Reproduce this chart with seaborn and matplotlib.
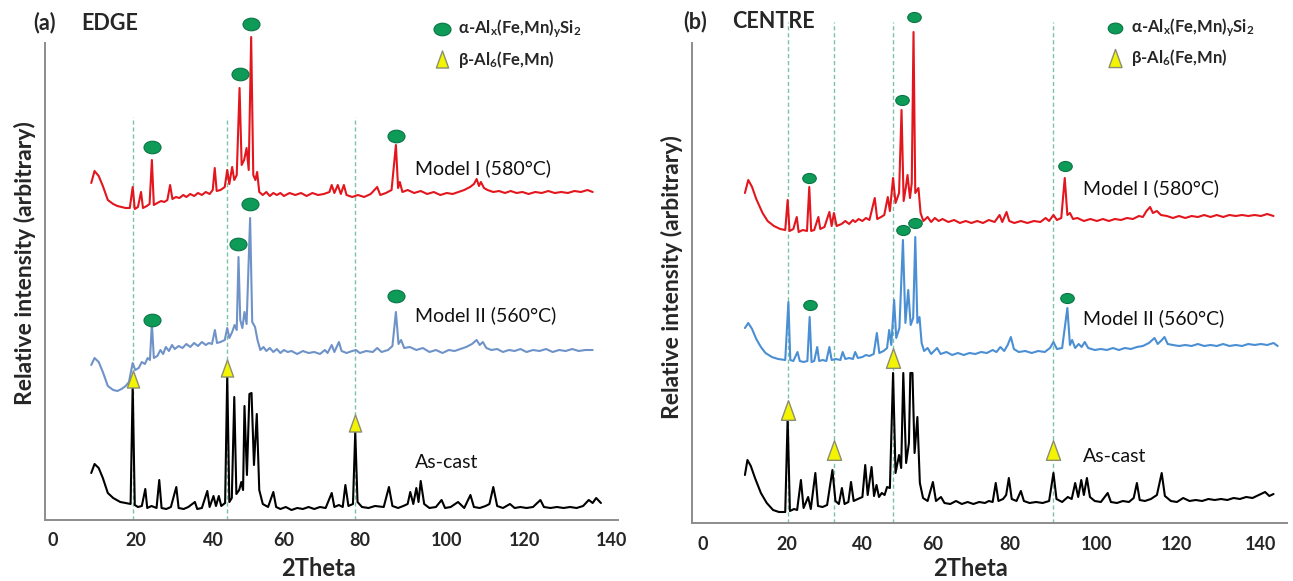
import matplotlib
matplotlib.use("Agg")
import matplotlib.pyplot as plt
import matplotlib.transforms as mtransforms
from matplotlib.path import Path
import numpy as np
import pandas as pd
import seaborn as sns

# digitised XRD patterns, (2theta, intensity) in arbitrary units; stacking offsets added when drawn
edge_ascast = [
    (9.2, 47), (10, 56), (11, 52), (12, 42), (13.2, 27), (14.5, 22), (16.2, 18), (17.5, 17), (18.7, 16),
    (19.2, 135), (19.7, 15), (20.5, 13), (21.5, 14), (22.4, 31), (22.9, 12), (24, 14), (25.3, 12), (26, 40),
    (26.6, 12), (27.8, 11), (29, 13), (30.4, 33), (31, 12), (32.3, 11), (33.5, 13), (35.2, 18), (35.8, 11),
    (37, 12), (38.4, 29), (39, 13), (40, 24), (40.7, 14), (41.5, 24), (42.2, 14), (43.3, 17), (43.9, 145),
    (44.5, 18), (45.2, 22), (45.9, 123), (46.5, 26), (47.3, 30), (47.9, 38), (48.4, 30), (48.8, 114),
    (49.5, 45), (50.2, 126), (50.8, 127), (51.5, 55), (52.3, 106), (53, 30), (54, 16), (55.5, 13), (57, 28),
    (57.8, 13), (59, 11), (60.5, 13), (62, 10), (63.5, 12), (65, 11), (66.5, 13), (68, 11), (69.5, 13),
    (71, 12), (72.6, 27), (73.3, 13), (74.5, 15), (75.5, 13), (76.2, 35), (77, 14), (78.2, 16), (78.8, 88),
    (79.4, 18), (80.5, 13), (82, 12), (83.5, 14), (85.5, 13), (86.7, 33), (87.5, 14), (88.8, 12), (90, 14),
    (91, 16), (91.6, 28), (92.3, 16), (93, 32), (93.5, 18), (94, 39), (94.8, 16), (96, 12), (97.5, 13),
    (98.8, 20), (99.6, 12), (101, 13), (102.9, 18), (104.5, 12), (106.1, 25), (107, 13), (108.5, 12),
    (110, 14), (111, 16), (112, 33), (113, 14), (114.5, 12), (116.3, 16), (117.5, 12), (119, 13),
    (120.5, 12), (122, 13), (123.7, 20), (124.5, 13), (126, 12), (127.5, 13), (129, 12), (130.5, 13),
    (132, 12), (133.5, 14), (134.8, 20), (135.7, 17), (136.5, 22), (137.6, 17),
]
edge_model2 = [
    (9.2, 35), (10, 42), (11, 38), (12, 28), (13.2, 14), (14.5, 10), (15.5, 9), (16.5, 11), (17.5, 14),
    (18.3, 18), (19.2, 37), (19.8, 30), (20.7, 32), (21.5, 38), (22.3, 36), (23, 42), (23.6, 40), (24.1, 77),
    (24.6, 42), (25.5, 44), (26.3, 50), (27, 46), (27.7, 53), (28.5, 49), (29.3, 55), (30, 51), (31, 54),
    (32, 52), (33, 56), (34, 53), (35, 57), (36, 54), (37, 58), (38, 55), (38.8, 57), (39.6, 56), (40.4, 70),
    (41, 57), (42, 58), (43.2, 60), (43.9, 72), (44.5, 62), (45.3, 68), (46, 75), (46.6, 70), (47.1, 143),
    (47.6, 80), (48.2, 72), (48.8, 88), (49.4, 76), (50.4, 182), (51, 78), (51.8, 73), (52.5, 60),
    (53.3, 50), (54.2, 53), (55, 49), (56, 52), (57, 48), (58, 51), (59, 47), (60, 50), (61, 48), (62, 49),
    (63.5, 46), (65, 49), (66.5, 47), (68, 48), (69.5, 46), (70.8, 50), (71.5, 47), (72.6, 55), (73.3, 48),
    (74.5, 58), (75.2, 49), (76.5, 47), (78, 49), (79, 50), (80, 47), (81.5, 49), (83, 48), (84, 52),
    (85, 48), (86.5, 50), (87.5, 54), (88.3, 88), (88.9, 56), (89.5, 60), (90.2, 52), (91.5, 53), (93, 50),
    (94.5, 52), (96, 48), (97.5, 50), (99, 47), (100.5, 50), (102, 49), (103.5, 51), (105, 53), (106.5, 56),
    (107.7, 60), (108.5, 55), (109.3, 58), (110.2, 52), (111.5, 50), (113, 51), (114.5, 48), (116, 50),
    (117.5, 49), (119, 51), (120.5, 48), (122, 50), (123.5, 49), (125, 51), (126.5, 48), (128, 50),
    (129.5, 49), (131, 51), (132.5, 49), (134, 50), (135.7, 50),
]
edge_model1 = [
    (9.2, 67), (10, 79), (11, 74), (12, 64), (13.2, 50), (14.5, 46), (15.5, 44), (16.5, 43), (17.5, 42),
    (18.5, 42), (19.2, 63), (19.7, 41), (20.5, 43), (21.3, 58), (21.8, 42), (22.8, 44), (23.5, 46),
    (24.1, 90), (24.6, 45), (25.5, 47), (26.5, 49), (27.3, 48), (28.1, 50), (28.8, 65), (29.4, 51),
    (30.3, 53), (31.2, 52), (32.2, 55), (33, 53), (34, 56), (35, 54), (36, 57), (37, 55), (38, 58), (39, 56),
    (39.8, 60), (40.35, 82), (40.9, 59), (42, 60), (43.2, 63), (43.9, 80), (44.5, 66), (45.3, 83),
    (45.9, 70), (46.6, 75), (47.4, 162), (48, 85), (48.7, 90), (49.4, 102), (50, 80), (50.7, 213),
    (51.3, 75), (51.9, 70), (52.4, 78), (53, 58), (54, 55), (55, 58), (56, 54), (57, 57), (58, 55), (59, 57),
    (60, 54), (61.5, 57), (63, 55), (64.5, 57), (66, 54), (67.5, 57), (69, 55), (70.5, 56), (72, 58),
    (72.6, 65), (73.3, 57), (74.2, 65), (75, 56), (75.8, 65), (76.5, 55), (78, 53), (79.5, 55), (81, 53),
    (82.5, 56), (84, 63), (84.7, 55), (86, 57), (87.3, 60), (88.3, 105), (88.8, 62), (89.2, 68), (89.8, 58),
    (91, 60), (92.5, 57), (94, 59), (95.5, 56), (97, 58), (98.5, 55), (100, 57), (101.5, 56), (103, 58),
    (104.5, 60), (106, 63), (107, 66), (107.7, 71), (108.3, 64), (108.8, 68), (109.6, 62), (110.5, 60),
    (112, 58), (113.5, 59), (115, 57), (116.5, 59), (118, 57), (119.5, 58), (121, 56), (122.5, 58),
    (124, 57), (125.5, 59), (127, 57), (128.5, 58), (130, 57), (131.5, 59), (133, 58), (134.5, 60),
    (135.7, 58),
]
centre_ascast = [
    (10.1, 48), (10.7, 63), (11.5, 57), (12.5, 45), (13.9, 30), (15.3, 20), (16.8, 13), (18.2, 11),
    (19.7, 11), (20.3, 105), (20.9, 12), (22, 14), (22.8, 13), (23.8, 43), (24.5, 15), (25.7, 26),
    (26.4, 14), (27.6, 50), (28.3, 17), (29.5, 16), (30.7, 18), (32.1, 53), (32.9, 22), (33.8, 19),
    (34.6, 35), (35.3, 19), (36.3, 21), (37, 41), (37.7, 22), (38.8, 24), (40, 26), (40.8, 58), (41.5, 28),
    (42.6, 56), (43.3, 27), (44, 38), (44.7, 26), (45.5, 30), (46.3, 28), (47, 36), (47.8, 35), (48.7, 150),
    (49.4, 50), (50.4, 68), (51, 55), (51.6, 150), (52.4, 60), (53.2, 80), (53.6, 150), (54.2, 150),
    (54.8, 70), (55.6, 106), (56.3, 40), (57.2, 25), (58.5, 22), (60, 41), (60.8, 22), (62.1, 26), (63, 20),
    (64.5, 19), (66, 22), (67.5, 19), (69, 21), (70.5, 19), (72, 21), (73.5, 20), (74.5, 22), (75.5, 21),
    (76.3, 40), (77, 22), (78.2, 24), (79, 28), (79.7, 45), (80.4, 24), (81.5, 22), (82.5, 32), (83.2, 22),
    (84.5, 20), (86, 21), (87.5, 20), (89, 22), (90, 50), (90.7, 24), (92, 21), (93.3, 26), (94.2, 24),
    (95, 40), (95.7, 26), (96.4, 43), (97, 28), (97.7, 45), (98.4, 26), (99.5, 22), (101, 21), (102.7, 30),
    (103.5, 21), (105, 20), (106.5, 22), (108, 21), (109.2, 25), (110, 40), (110.7, 23), (112, 22),
    (113.5, 24), (115, 28), (116.2, 50), (117, 27), (118.5, 22), (120, 21), (121.5, 25), (123, 22),
    (124.5, 23), (126, 22), (127.5, 24), (129, 23), (130.5, 24), (132, 23), (133.5, 25), (135, 24),
    (136.5, 26), (138, 25), (139.5, 28), (141, 31), (142, 27), (143, 29),
]
centre_model2 = [
    (10.1, 75), (10.9, 80), (11.8, 74), (12.8, 64), (13.9, 56), (15, 50), (16.5, 46), (18, 44), (19.7, 43),
    (20.5, 101), (21, 43), (21.8, 42), (22.9, 51), (23.5, 42), (24.5, 41), (25.5, 42), (26.1, 86),
    (26.6, 41), (27.3, 42), (28.1, 56), (28.6, 42), (29.5, 43), (30.5, 42), (31.3, 56), (31.9, 43), (33, 44),
    (34.2, 43), (34.8, 51), (35.5, 44), (36.5, 45), (37.5, 44), (38.1, 51), (38.8, 45), (40, 46), (41, 48),
    (42, 47), (43.2, 49), (44.1, 70), (44.8, 50), (46, 52), (47, 55), (47.6, 73), (48.2, 58), (49, 103),
    (49.6, 65), (50.5, 75), (51.5, 163), (52.2, 80), (53, 113), (53.7, 78), (54.4, 85), (55, 166),
    (55.6, 80), (56.2, 86), (56.8, 60), (57.5, 52), (58.5, 55), (59.5, 49), (60.3, 52), (61.1, 55), (62, 49),
    (63.5, 51), (65, 48), (66.5, 50), (68, 48), (69.5, 50), (71, 49), (72.5, 51), (74, 50), (75.5, 53),
    (76.5, 51), (77.5, 56), (78.5, 52), (79.4, 58), (80.2, 66), (80.9, 54), (82, 51), (83.5, 52), (85, 50),
    (86.5, 52), (88, 51), (89.2, 55), (90, 61), (90.8, 54), (92, 55), (93.2, 95), (93.8, 58), (94.3, 63),
    (95, 55), (95.8, 59), (96.5, 56), (97.2, 61), (98, 55), (99.5, 53), (101, 54), (102.5, 53), (104, 55),
    (105.5, 53), (107, 55), (108.5, 54), (110, 56), (111.5, 57), (113, 60), (114.4, 65), (115.2, 59),
    (116, 62), (116.9, 66), (117.7, 59), (119, 58), (120.5, 57), (122, 58), (123.5, 57), (125, 59),
    (126.5, 57), (128, 58), (129.5, 57), (131, 59), (132.5, 57), (134, 58), (135.5, 57), (137, 59),
    (138.5, 58), (140, 59), (141.5, 58), (143, 60), (144, 57),
]
centre_model1 = [
    (10.1, 80), (10.9, 93), (11.8, 86), (12.8, 74), (14.3, 60), (15.5, 52), (17, 47), (18.5, 44), (19.7, 43),
    (20.3, 73), (20.8, 42), (21.8, 44), (22.7, 56), (23.2, 41), (24.3, 43), (25.4, 42), (26, 86), (26.5, 42),
    (27.3, 43), (28.4, 56), (28.9, 44), (30, 46), (31.3, 61), (31.9, 47), (32.5, 60), (33.2, 47), (34.5, 49),
    (35.5, 52), (36.5, 49), (37.5, 53), (38.1, 51), (39, 54), (40, 52), (41, 55), (42, 53), (43.5, 75),
    (44.2, 54), (45.3, 56), (46.2, 58), (47.2, 76), (47.8, 62), (48.7, 95), (49.4, 70), (50.4, 80),
    (51.1, 163), (51.7, 72), (52.3, 85), (52.8, 98), (53.5, 75), (54, 90), (54.5, 241), (55, 80), (55.9, 85),
    (56.5, 60), (57.3, 52), (58.5, 56), (59.5, 51), (60.5, 55), (61.5, 52), (62.5, 54), (64, 51), (65.5, 53),
    (67, 50), (68.5, 52), (70, 50), (71.5, 52), (73, 50), (74.5, 53), (76, 51), (77.3, 58), (78, 51),
    (79.1, 61), (79.8, 52), (81, 50), (82.5, 52), (84, 50), (85.5, 52), (87, 51), (88.2, 55), (89, 52),
    (90, 58), (90.8, 53), (91.8, 55), (92.6, 95), (93.2, 58), (93.8, 60), (94.5, 54), (95.5, 55), (97, 52),
    (98.5, 54), (100, 52), (101.5, 54), (103, 52), (104.5, 54), (106, 53), (107.5, 55), (109, 54),
    (110.5, 57), (111.5, 56), (112.4, 62), (113.3, 66), (114, 60), (115, 62), (116, 58), (117.5, 57),
    (119, 55), (120.5, 57), (122, 55), (123.5, 57), (125, 56), (126.5, 58), (128, 56), (129.5, 58),
    (131, 56), (132.5, 58), (134, 57), (135.5, 58), (137, 57), (138.5, 58), (140, 57), (141.5, 59), (143, 57),
]

samples = ["As-cast", "Model II (560°C)", "Model I (580°C)"]
edge_offsets = [0, 120, 270]
centre_offsets = [0, 120, 250]

# phase markers (2theta, stacked height)
edge_alpha = [(24.1, 373), (47.4, 446), (50.7, 496), (88.3, 384),
              (24.1, 200), (47.1, 276), (50.4, 316), (88.3, 224)]
edge_beta = [(19.2, 141), (43.9, 152), (78.8, 97)]
edge_guides = [19.2, 43.9, 78.8]
centre_alpha = [(26, 345), (51.1, 423), (54.5, 506), (92.6, 357),
                (26.1, 218), (51.5, 293), (55, 300), (93.2, 225)]
centre_beta = [(20.3, 113), (32.4, 73), (48.6, 165), (90, 73)]
centre_guides = [20.3, 32.4, 48.6, 90]

edge_label_y = [58, 205, 352]
centre_label_y = [66, 205, 335]
xticks = [0, 20, 40, 60, 80, 100, 120, 140]

# the source axis labels are not evenly spaced; pixel spots of each tick label (plus end extensions)
edge_tick_px = [-29.8, 53.1, 136.0, 213.5, 283.9, 359.8, 446.8, 524.3, 611.4, 742.0]
centre_tick_px = [618.5, 702.5, 786.5, 862.4, 932.9, 1010.0, 1096.9, 1176.9, 1260.9, 1387.0]
anchor_vals = [-20] + xticks + [170]

sns.set_theme(style="white")
FONT = ["Lato", "DejaVu Sans"]
plt.rcParams["font.family"] = FONT
plt.rcParams["mathtext.fontset"] = "custom"
plt.rcParams["mathtext.rm"] = "Lato:bold"
plt.rcParams["mathtext.it"] = "Lato:bold"
plt.rcParams["mathtext.bf"] = "Lato:bold"

GREEN = "#0e9b58"
YELLOW = "#f4f400"
GUIDE = "#79c4a6"
ellipse = Path.unit_circle().transformed(mtransforms.Affine2D().scale(1.35, 1.0))
triangle = Path([(-0.36, -0.5), (0.36, -0.5), (0, 0.5), (-0.36, -0.5)],
                [Path.MOVETO, Path.LINETO, Path.LINETO, Path.CLOSEPOLY])


def tick_scale(px):
    fwd = lambda v: np.interp(v, anchor_vals, px)
    inv = lambda p: np.interp(p, px, anchor_vals)
    return fwd, inv


def draw_panel(ax, patterns, offsets, colors, alpha_pts, beta_pts, guides, guide_top,
               label_y, label_x, tick_px, span_px, ylim, spine_top, msize, tsize):
    rows = []
    for name, pat, off in zip(samples, patterns, offsets):
        for tt, inten in pat:
            rows.append({"two_theta": tt, "intensity": inten + off, "sample": name})
    df = pd.DataFrame(rows)
    fwd, inv = tick_scale(tick_px)
    ax.set_xscale("function", functions=(fwd, inv))
    ax.vlines(guides, 0, guide_top, colors=GUIDE, linestyles=(0, (3, 2)), lw=1.0, zorder=1)
    sns.lineplot(data=df, x="two_theta", y="intensity", hue="sample", palette=colors,
                 estimator=None, sort=False, lw=1.5, legend=False, ax=ax, zorder=2)
    ax.scatter([p[0] for p in alpha_pts], [p[1] for p in alpha_pts], marker=ellipse, s=msize,
               c=GREEN, edgecolors="#0a7444", linewidths=0.8, zorder=4)
    ax.scatter([p[0] for p in beta_pts], [p[1] for p in beta_pts], marker=triangle, s=tsize,
               c=YELLOW, edgecolors="#8a8f70", linewidths=1.0, zorder=4)
    for name, ly in zip(samples, label_y):
        ax.text(label_x, ly, name, fontsize=14, va="center", ha="left", color="#111111")
    ax.set_xlim(float(inv(span_px[0])), float(inv(span_px[1])))
    ax.set_ylim(*ylim)
    ax.set_xticks(xticks)
    ax.set_xticks([], minor=True)
    ax.set_xticklabels([str(t) for t in xticks], fontsize=13, fontweight="bold")
    ax.set_yticks([])
    ax.tick_params(axis="x", length=0, pad=9)
    ax.set_xlabel("")
    ax.set_ylabel("")
    for s in ["top", "right"]:
        ax.spines[s].set_visible(False)
    for s in ["left", "bottom"]:
        ax.spines[s].set_color("#8c8c8c")
        ax.spines[s].set_linewidth(1.4)
    ax.spines["left"].set_bounds(0, spine_top)
    ax.patch.set_alpha(0)


def draw_key(ax, x_mark, x_text, y_alpha, y_beta, msize, tsize):
    ax.scatter([x_mark], [y_alpha], marker=ellipse, s=msize, c=GREEN,
               edgecolors="#0a7444", linewidths=0.8, zorder=4, clip_on=False)
    ax.scatter([x_mark], [y_beta], marker=triangle, s=tsize, c=YELLOW,
               edgecolors="#8a8f70", linewidths=1.0, zorder=4, clip_on=False)
    ax.text(x_text, y_alpha, r"α-Al$_{x}$(Fe,Mn)$_{y}$Si$_{2}$", fontsize=12, fontweight="bold",
            va="center", ha="left")
    ax.text(x_text, y_beta, r"β-Al$_{6}$(Fe,Mn)", fontsize=12, fontweight="bold",
            va="center", ha="left")


W, H = 1293, 581
fig = plt.figure(figsize=(W / 100, H / 100), dpi=100)
ax1 = fig.add_axes([45 / W, (H - 520) / H, (618 - 45) / W, 520 / H])
ax2 = fig.add_axes([692 / W, (H - 523) / H, (1287 - 692) / W, 523 / H])

draw_panel(ax1, [edge_ascast, edge_model2, edge_model1], edge_offsets,
           ["#000000", "#6f93c8", "#e3161d"], edge_alpha, edge_beta, edge_guides, 403,
           edge_label_y, 92.6, edge_tick_px, (45, 618), (0, 520), 477, 150, 150)
draw_panel(ax2, [centre_ascast, centre_model2, centre_model1], centre_offsets,
           ["#000000", "#4a8fd4", "#e3161d"], centre_alpha, centre_beta, centre_guides, 501,
           centre_label_y, 96.7, centre_tick_px, (692, 1287), (0, 523), 480, 95, 200)

draw_key(ax1, 99, 102.8, 491, 461, 150, 150)
draw_key(ax2, 104.6, 108.6, 495, 465, 110, 170)

fig.text(33 / W, 1 - 23 / H, "(a)", fontsize=15.5, fontweight="bold", va="center", ha="left")
fig.text(81 / W, 1 - 23 / H, "EDGE", fontsize=15.5, fontweight="bold", va="center", ha="left")
fig.text(683 / W, 1 - 22 / H, "(b)", fontsize=15.5, fontweight="bold", va="center", ha="left")
fig.text(732 / W, 1 - 22 / H, "CENTRE", fontsize=15.5, fontweight="bold", va="center", ha="left")
fig.text(25 / W, 1 - 263 / H, "Relative intensity (arbitrary)", fontsize=16.5, fontweight="bold",
         rotation=90, va="center", ha="center")
fig.text(672 / W, 1 - 277 / H, "Relative intensity (arbitrary)", fontsize=16.5, fontweight="bold",
         rotation=90, va="center", ha="center")
fig.text(319 / W, 1 - 568 / H, "2Theta", fontsize=17, fontweight="bold", va="center", ha="center")
fig.text(970 / W, 1 - 568 / H, "2Theta", fontsize=17, fontweight="bold", va="center", ha="center")

fig.savefig("out.png", dpi=100)
